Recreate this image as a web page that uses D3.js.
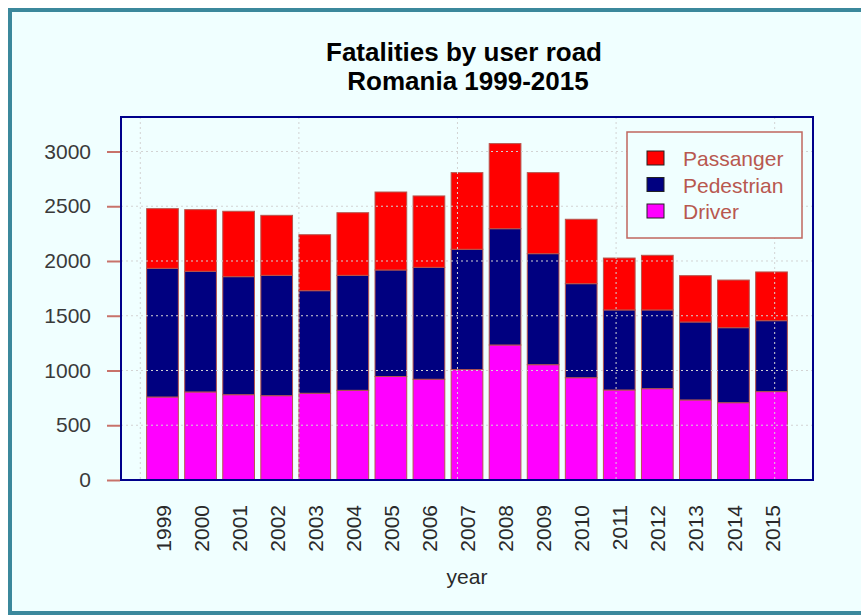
<!DOCTYPE html>
<html>
<head>
<meta charset="utf-8">
<script src="https://cdn.jsdelivr.net/npm/d3@7"></script>
<style>
  body { margin: 0; background: #fff; }
  text { font-family: "Liberation Sans", Arial, sans-serif; }
</style>
</head>
<body>
<div id="chart"></div>
<script>
// data
var years = [1999, 2000, 2001, 2002, 2003, 2004, 2005, 2006, 2007, 2008, 2009, 2010, 2011, 2012, 2013, 2014, 2015];
var driver = [758, 804, 779, 770, 792, 819, 945, 920, 1008, 1233, 1053, 934, 822, 834, 731, 706, 807];
var pedestrian = [1175, 1102, 1078, 1099, 937, 1050, 973, 1022, 1099, 1062, 1014, 859, 731, 719, 712, 685, 648];
var passenger = [545, 563, 597, 548, 511, 572, 712, 652, 700, 777, 740, 588, 474, 499, 423, 435, 445];
var yTicks = [0, 500, 1000, 1500, 2000, 2500, 3000];
var xGrid = [0, 5, 10, 15, 20];

var colors = {driver: "#ff00ff", pedestrian: "#000080", passenger: "#ff0000"};
var legendItems = [
  {key: "passenger", label: "Passanger"},
  {key: "pedestrian", label: "Pedestrian"},
  {key: "driver", label: "Driver"}
];

var W = 861, H = 615;
var plot = {left: 121, right: 813, top: 117, bottom: 480};

var svg = d3.select("#chart").append("svg")
  .attr("width", W)
  .attr("height", H);

// frame
svg.append("rect")
  .attr("x", 10).attr("y", 10)
  .attr("width", 900).attr("height", 603)
  .attr("fill", "#f0ffff")
  .attr("stroke", "#3b889c")
  .attr("stroke-width", 4);

var rows = years.map(function(y, i){
  return {year: y, i: i, driver: driver[i], pedestrian: pedestrian[i], passenger: passenger[i]};
});

// R barplot style units: bar i spans 0.2+1.2i .. 1.2+1.2i
var x = d3.scaleLinear()
  .domain([-0.608, 21.208])
  .range([plot.left, plot.right]);

var y = d3.scaleLinear()
  .domain([0, 3315])
  .range([plot.bottom, plot.top]);

var stack = d3.stack().keys(["driver", "pedestrian", "passenger"]);
var series = stack(rows);

var layer = svg.selectAll(".layer")
    .data(series)
  .enter().append("g")
    .attr("class", "layer")
    .attr("fill", function(d){ return colors[d.key]; });

layer.selectAll("rect")
    .data(function(d){ return d; })
  .enter().append("rect")
    .attr("x", function(d){ return x(0.2 + 1.2 * d.data.i); })
    .attr("width", x(1) - x(0))
    .attr("y", function(d){ return y(d[1]); })
    .attr("height", function(d){ return y(d[0]) - y(d[1]); })
    .attr("stroke", "#b5564e")
    .attr("stroke-width", 1);

// grid on top of the bars
svg.append("g").selectAll("line")
    .data(yTicks)
  .enter().append("line")
    .attr("x1", plot.left).attr("x2", plot.right)
    .attr("y1", function(d){ return y(d); })
    .attr("y2", function(d){ return y(d); })
    .attr("stroke", "#d3d3d3")
    .attr("stroke-dasharray", "2,3");

svg.append("g").selectAll("line")
    .data(xGrid)
  .enter().append("line")
    .attr("x1", function(d){ return x(d); })
    .attr("x2", function(d){ return x(d); })
    .attr("y1", plot.top).attr("y2", plot.bottom)
    .attr("stroke", "#d3d3d3")
    .attr("stroke-dasharray", "2,3");

// y axis
var yAxis = svg.append("g")
  .attr("transform", "translate(" + (plot.left - 1) + ",0)")
  .call(d3.axisLeft(y).tickValues(yTicks).tickFormat(d3.format("d")).tickSize(13).tickPadding(16));
yAxis.select(".domain").remove();
yAxis.selectAll("line").attr("stroke", "#c8726a").attr("stroke-width", 2);
yAxis.selectAll("text")
  .attr("fill", "#3a3a3a")
  .style("font-size", "21px");

// x axis, rotated year labels
var xAxis = svg.append("g")
  .attr("transform", "translate(0," + plot.bottom + ")")
  .call(d3.axisBottom(x)
    .tickValues(years.map(function(d, i){ return 0.7 + 1.2 * i; }))
    .tickFormat(function(d, i){ return years[i]; })
    .tickSize(0));
xAxis.select(".domain").remove();
xAxis.selectAll("text")
  .attr("fill", "#2a2a2a")
  .style("font-size", "21px")
  .attr("text-anchor", "end")
  .attr("transform", "rotate(-90)")
  .attr("x", -25)
  .attr("y", 0)
  .attr("dy", "0.36em");

// plot box
svg.append("rect")
  .attr("x", plot.left).attr("y", plot.top)
  .attr("width", plot.right - plot.left)
  .attr("height", plot.bottom - plot.top)
  .attr("fill", "none")
  .attr("stroke", "#00008b")
  .attr("stroke-width", 2);

// titles
svg.append("text")
  .attr("x", 464).attr("y", 61)
  .attr("text-anchor", "middle")
  .style("font-size", "26px")
  .style("font-weight", "bold")
  .text("Fatalities by user road");

svg.append("text")
  .attr("x", 468).attr("y", 90)
  .attr("text-anchor", "middle")
  .style("font-size", "26px")
  .style("font-weight", "bold")
  .text("Romania 1999-2015");

svg.append("text")
  .attr("x", (plot.left + plot.right) / 2).attr("y", 584)
  .attr("text-anchor", "middle")
  .attr("fill", "#2a2a2a")
  .style("font-size", "21px")
  .text("year");

// legend
var legend = svg.append("g");
legend.append("rect")
  .attr("x", 627).attr("y", 132)
  .attr("width", 175).attr("height", 106)
  .attr("fill", "#f0ffff")
  .attr("stroke", "#c0675f")
  .attr("stroke-width", 1.5);

var item = legend.selectAll(".item")
    .data(legendItems)
  .enter().append("g")
    .attr("class", "item")
    .attr("transform", function(d, i){ return "translate(0," + (i * 26.5) + ")"; });

item.append("rect")
  .attr("x", 647).attr("y", 151)
  .attr("width", 17).attr("height", 14)
  .attr("fill", function(d){ return colors[d.key]; })
  .attr("stroke", "#222")
  .attr("stroke-width", 1);

item.append("text")
  .attr("x", 683).attr("y", 166)
  .attr("fill", "#b8584f")
  .style("font-size", "21px")
  .text(function(d){ return d.label; });
</script>
</body>
</html>
